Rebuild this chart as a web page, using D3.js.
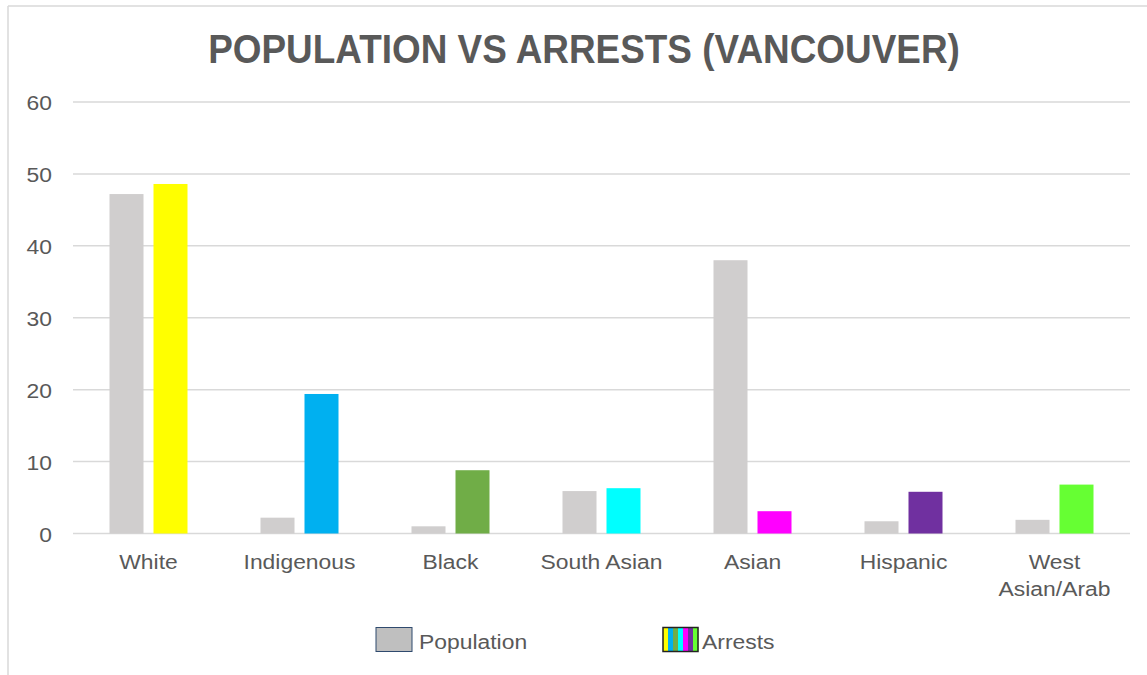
<!DOCTYPE html>
<html>
<head>
<script src="https://cdn.jsdelivr.net/npm/d3@7"></script>
<style>
  body{ margin:0; background:white; font-family:"Liberation Sans", Arial, sans-serif; }
</style>
</head>
<body>
<div id="chart"></div>
<script>
  // data
  var categories = ["White","Indigenous","Black","South Asian","Asian","Hispanic","West Asian/Arab"]
  var population = [47.2, 2.2, 1.0, 5.9, 38.0, 1.7, 1.9]
  var arrests = [48.6, 19.4, 8.8, 6.3, 3.1, 5.8, 6.8]
  var arrestColors = ["#ffff00","#00b0f0","#70ad47","#00ffff","#ff00ff","#7030a0","#66ff33"]
  var yTicks = [0,10,20,30,40,50,60]

  var width = 1147, height = 675
  var textColor = "#595959"
  var stretch = 1.09   // text in the picture is a bit wider than plain Arial

  var svg = d3.select("#chart").append("svg")
    .attr("width", width).attr("height", height)

  function place(x,y,sx){ return "translate("+x+","+y+") scale("+sx+",1)" }

  // chart area border (only top and left visible)
  svg.append("line").attr("x1",8).attr("y1",6).attr("x2",width).attr("y2",6)
    .attr("stroke","#d9d9d9").attr("stroke-width",1.5)
  svg.append("line").attr("x1",8).attr("y1",6).attr("x2",8).attr("y2",height)
    .attr("stroke","#d9d9d9").attr("stroke-width",1.5)

  svg.append("text").text("POPULATION VS ARRESTS (VANCOUVER)")
    .attr("transform",place(584,63,0.9)).attr("text-anchor","middle")
    .attr("font-size",41).attr("font-weight","bold").attr("fill",textColor)

  var x = d3.scaleBand().domain(categories).range([73,1130])
  var y = d3.scaleLinear().domain([0,60]).range([533.5,102])

  // gridlines
  svg.append("g").selectAll("line").data(yTicks).join("line")
    .attr("x1",73).attr("x2",1130)
    .attr("y1",d => y(d)).attr("y2",d => y(d))
    .attr("stroke","#d9d9d9").attr("stroke-width",1.5)

  svg.append("g").selectAll("text").data(yTicks).join("text")
    .text(d => d)
    .attr("transform",d => place(52,y(d)+8,stretch))
    .attr("text-anchor","end").attr("font-size",21).attr("fill",textColor)

  var barW = 34, gap = 10
  svg.append("g").selectAll("rect").data(categories).join("rect")
    .attr("x",d => x(d)+x.bandwidth()/2-gap/2-barW)
    .attr("y",(d,i) => y(population[i]))
    .attr("width",barW)
    .attr("height",(d,i) => y(0)-y(population[i]))
    .attr("fill","#d0cece")

  svg.append("g").selectAll("rect").data(categories).join("rect")
    .attr("x",d => x(d)+x.bandwidth()/2+gap/2)
    .attr("y",(d,i) => y(arrests[i]))
    .attr("width",barW)
    .attr("height",(d,i) => y(0)-y(arrests[i]))
    .attr("fill",(d,i) => arrestColors[i])

  // category labels
  categories.forEach(function(d){
    var parts = d == "West Asian/Arab" ? ["West","Asian/Arab"] : [d]
    parts.forEach(function(p,j){
      svg.append("text").text(p)
        .attr("transform",place(x(d)+x.bandwidth()/2,569+j*27,stretch))
        .attr("text-anchor","middle").attr("font-size",21).attr("fill",textColor)
    })
  })

  // legend
  var legend = svg.append("g")
  legend.append("rect").attr("x",376).attr("y",627.5).attr("width",36).attr("height",24)
    .attr("fill","#bfbfbf").attr("stroke","#2f4a6e").attr("stroke-width",1)
  legend.append("text").text("Population").attr("transform",place(419,649,stretch))
    .attr("font-size",21).attr("fill",textColor)

  var stripeW = 35/arrestColors.length
  legend.append("g").selectAll("rect").data(arrestColors).join("rect")
    .attr("x",(d,i) => 663+i*stripeW).attr("y",627.5)
    .attr("width",stripeW+0.3).attr("height",24)
    .attr("fill",d => d)
  legend.append("rect").attr("x",663).attr("y",627.5).attr("width",35).attr("height",24)
    .attr("fill","none").attr("stroke","#222").attr("stroke-width",1.5)
  legend.append("text").text("Arrests").attr("transform",place(702,649,stretch))
    .attr("font-size",21).attr("fill",textColor)
</script>
</body>
</html>
